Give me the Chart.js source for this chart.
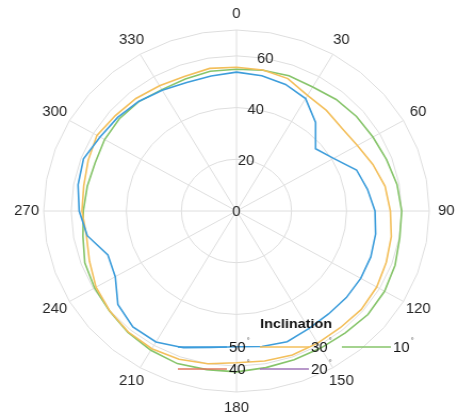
<!DOCTYPE html>
<html>
<head>
<meta charset="utf-8">
<script src="https://cdn.jsdelivr.net/npm/chart.js@4.4.1/dist/chart.umd.min.js"></script>
<style>
html,body{margin:0;padding:0;background:#fff;overflow:hidden;width:458px;height:417px;}
#wrap{position:absolute;left:0;top:0;width:430px;height:417px;transform:scaleX(1.0651);transform-origin:0 0;}
canvas{display:block;}
</style>
</head>
<body>
<div id="wrap"><canvas id="c" width="430" height="417"></canvas></div>
<script>
// Angles (degrees, clockwise from top) at which the curves are sampled
const angles = [0,10,20,30,40,50,60,70,80,90,100,110,120,130,140,150,160,170,
                180,190,200,210,220,230,240,250,260,270,280,290,300,310,320,330,340,350];
// Angular tick labels shown every 30 degrees
const angleTickLabels = ['0','30','60','90','120','150','180','210','240','270','300','330'];
// Radial tick labels
const radialTicks = [0,20,40,60];
const radialMax = 70;

// Series (inclination) labels and values
const seriesLabels = ['50°','40°','30°','20°','10°'];
const incl50 = [53.7,53.1,52.1,50.2,44.7,37.5,40.7,46.4,48.3,50.3,51.3,51.9,
                52.1,52.1,52.0,52.5,53.8,53.2,52.5,53.6,56.3,58.5,58.5,56.2,
                50.8,49.7,55.0,57.1,58.4,59.1,57.2,56.3,55.3,53.9,52.9,53.0];
const incl40 = [];
const incl30 = [55.6,55.4,54.5,51.6,50.8,49.9,50.7,52.7,54.8,55.9,57.1,57.9,
                58.8,59.2,58.8,59.0,59.3,58.9,58.7,60.0,61.0,61.5,61.1,60.1,
                58.9,56.8,55.3,56.1,56.3,57.3,58.5,57.4,56.8,55.9,55.4,56.0];
const incl20 = [];
const incl10 = [54.8,55.3,55.7,55.4,56.3,56.9,57.2,58.0,59.2,60.0,60.2,61.3,
                62.1,62.3,61.5,61.2,61.2,61.5,62.2,62.3,62.8,62.2,61.3,60.2,
                59.5,58.6,56.6,55.6,55.0,54.6,55.3,55.5,55.2,54.2,54.3,54.9];
const seriesValues = [incl50, incl40, incl30, incl20, incl10];
const seriesColors = ['#3d9ddb','#e0795f','#f3bf5b','#a176b8','#86c46a'];

const legendTitle = 'Inclination';
const FONT = '"Liberation Sans", Arial, Helvetica, sans-serif';
const TEXT = '#262626';

const overlay = {
  id: 'overlay',
  afterDraw(chart) {
    const s = chart.scales.r;
    const ctx = chart.ctx;
    ctx.save();
    ctx.fillStyle = TEXT;
    ctx.textAlign = 'center';
    ctx.textBaseline = 'middle';
    // angle labels
    ctx.font = '14px ' + FONT;
    angles.forEach((a, i) => {
      if (a % 30 !== 0) return;
      const p = s.getPointPosition(i, s.drawingArea + 16);
      ctx.fillText(angleTickLabels[a / 30], p.x, p.y);
    });
    // radial tick labels, at 10 degrees clockwise from top
    radialTicks.forEach(v => {
      const d = s.getDistanceFromCenterForValue(v);
      const p = s.getPointPosition(0, d, 10 * Math.PI / 180);
      ctx.fillText(String(v), p.x, p.y + 1);
    });
    // legend
    ctx.font = 'bold 13.5px ' + FONT;
    ctx.fillStyle = '#111';
    ctx.fillText(legendTitle, 278, 324);
    const colX = [167, 244, 321];
    const rowY = [347, 369];
    chart.data.datasets.forEach((ds, i) => {
      const col = Math.floor(i / 2), row = i % 2;
      const x0 = colX[col], y = rowY[row];
      ctx.strokeStyle = ds.borderColor;
      ctx.lineWidth = 1.5;
      ctx.beginPath();
      ctx.moveTo(x0, y);
      ctx.lineTo(x0 + 46, y);
      ctx.stroke();
      const num = ds.label.replace('°', '');
      ctx.textAlign = 'left';
      ctx.font = '14px ' + FONT;
      ctx.fillStyle = '#111';
      ctx.fillText(num, x0 + 48, y + 1);
      const w = ctx.measureText(num).width;
      ctx.font = '8px ' + FONT;
      ctx.fillStyle = '#555';
      ctx.fillText('°', x0 + 49 + w, y - 6);
      ctx.textAlign = 'center';
    });
    ctx.restore();
  }
};

new Chart(document.getElementById('c'), {
  type: 'radar',
  data: {
    labels: angles.map(String),
    datasets: seriesLabels.map((lab, i) => ({
      label: lab,
      data: seriesValues[i],
      borderColor: seriesColors[i],
      backgroundColor: seriesColors[i],
      borderWidth: 1.6,
      fill: false,
      tension: 0,
      pointRadius: 0,
      pointHoverRadius: 0
    }))
  },
  options: {
    responsive: false,
    animation: false,
    devicePixelRatio: 1,
    layout: { padding: { top: 30, bottom: 25, left: 41, right: 27 } },
    plugins: { legend: { display: false }, tooltip: { enabled: false }, title: { display: false } },
    scales: {
      r: {
        min: 0,
        max: radialMax,
        ticks: { stepSize: 20, display: false },
        pointLabels: { display: false },
        grid: { color: '#dedede', lineWidth: 1 },
        angleLines: {
          display: true,
          color: c => (angles[c.index] % 30 === 0 ? '#dedede' : 'rgba(0,0,0,0)'),
          lineWidth: c => (angles[c.index] % 30 === 0 ? 1 : 0)
        }
      }
    }
  },
  plugins: [overlay]
});
</script>
</body>
</html>
